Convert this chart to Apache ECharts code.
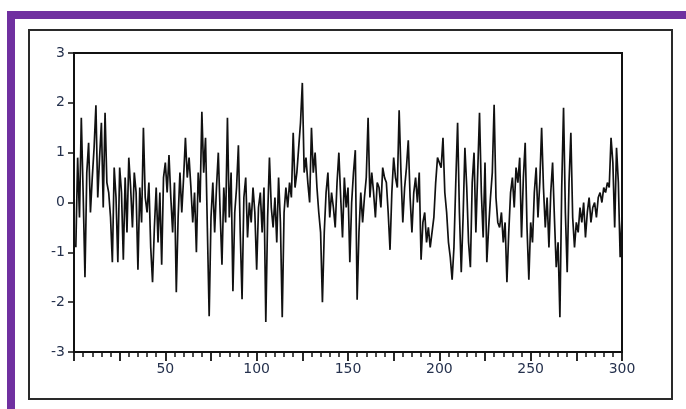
<!DOCTYPE html>
<html>
<head>
<meta charset="utf-8">
<script src="https://cdn.jsdelivr.net/npm/echarts@6/dist/echarts.min.js"></script>
<style>
  html, body { margin: 0; padding: 0; background: #fff; }
  #chart { width: 686px; height: 409px; }
</style>
</head>
<body>
<div id="chart"></div>
<script>
// Simulated residual series, observations 1..300
const obs = Array.from({ length: 300 }, (_, i) => i + 1);
const values = [
  -0.9, 0.9, -0.3, 1.7, 0.2, -1.5, 0.6, 1.2, -0.2, 0.5,
  1.1, 1.95, 0.1, 0.9, 1.6, -0.1, 1.8, 0.4, 0.2, -0.3,
  -1.2, 0.7, 0.1, -1.2, 0.7, 0.2, -1.15, 0.5, -0.6, 0.9,
  0.3, -0.5, 0.6, 0.2, -1.35, 0.3, -0.4, 1.5, 0.1, -0.2,
  0.4, -0.9, -1.6, -0.5, 0.3, -0.8, 0.2, -1.25, 0.5, 0.8,
  0.2, 0.95, 0.1, -0.6, 0.4, -1.8, -0.3, 0.6, -0.2, 0.5,
  1.3, 0.5, 0.9, 0.3, -0.4, 0.2, -1.0, 0.6, 0.0, 1.82,
  0.6, 1.3, -0.5, -2.28, -0.3, 0.4, -0.6, 0.3, 1.0, -0.2,
  -1.25, 0.3, -0.4, 1.7, -0.3, 0.6, -1.78, -0.2, 0.3, 1.15,
  -0.6, -1.94, 0.1, 0.5, -0.7, 0.0, -0.4, 0.3, -0.2, -1.35,
  -0.1, 0.2, -0.6, 0.3, -2.4, -0.3, 0.9, -0.1, -0.5, 0.1,
  -0.8, 0.5, -0.4, -2.3, -0.2, 0.3, -0.1, 0.4, 0.1, 1.4,
  0.3, 0.6, 1.1, 1.6, 2.4, 0.6, 0.9, 0.4, 0.0, 1.5,
  0.6, 1.0, 0.3, -0.2, -0.6, -2.0, -0.6, 0.2, 0.6, -0.3,
  0.2, -0.1, -0.5, 0.4, 1.0, 0.1, -0.7, 0.5, -0.1, 0.3,
  -1.2, 0.0, 0.6, 1.05, -1.95, -0.6, 0.2, -0.4, 0.1, 0.5,
  1.7, 0.1, 0.6, 0.2, -0.3, 0.4, 0.3, -0.1, 0.7, 0.5,
  0.4, -0.2, -0.95, 0.2, 0.9, 0.5, 0.3, 1.85, 0.6, -0.4,
  0.3, 0.7, 1.25, 0.1, -0.6, 0.2, 0.5, 0.0, 0.6, -1.15,
  -0.4, -0.2, -0.8, -0.5, -0.9, -0.6, -0.3, 0.4, 0.9, 0.8,
  0.7, 1.3, 0.2, -0.2, -0.8, -1.1, -1.55, -0.9, 0.4, 1.6,
  -0.2, -1.4, -0.3, 1.1, 0.3, -0.8, -1.3, 0.4, 1.0, -0.6,
  0.6, 1.8, 0.2, -0.7, 0.8, -1.2, -0.5, 0.1, 0.6, 1.96,
  0.1, -0.4, -0.5, -0.2, -0.8, -0.4, -1.6, -0.6, 0.2, 0.5,
  -0.1, 0.7, 0.4, 0.9, -0.7, 0.5, 1.2, -0.5, -1.55, -0.4,
  -0.8, 0.2, 0.7, -0.3, 0.4, 1.5, 0.3, -0.5, 0.1, -0.9,
  0.2, 0.8, -0.3, -1.3, -0.8, -2.3, 0.3, 1.9, -0.2, -1.4,
  0.4, 1.4, -0.3, -0.9, -0.4, -0.6, -0.1, -0.4, 0.0, -0.7,
  -0.2, 0.1, -0.4, -0.1, 0.0, -0.3, 0.1, 0.2, 0.0, 0.3,
  0.2, 0.4, 0.3, 1.3, 0.8, -0.5, 1.1, 0.4, -1.1, -0.3
];
const yTicks = [-3, -2, -1, 0, 1, 2, 3];
const xLabelStep = 50;

const purple = '#7030a0';
const labelColor = '#26324e';
const labelFont = { fontFamily: 'DejaVu Sans', fontSize: 14, color: labelColor };

const chart = echarts.init(document.getElementById('chart'), null, { renderer: 'canvas' });
chart.setOption({
  backgroundColor: '#ffffff',
  animation: false,
  graphic: [
    // purple page frame (top and left bars)
    { type: 'rect', z: -10, shape: { x: 7, y: 11, width: 679, height: 8 }, style: { fill: purple } },
    { type: 'rect', z: -10, shape: { x: 7, y: 11, width: 8, height: 398 }, style: { fill: purple } },
    // figure box
    { type: 'rect', z: -10, shape: { x: 29, y: 30, width: 643, height: 369 },
      style: { fill: 'none', stroke: '#2a2a2a', lineWidth: 2 } }
  ],
  grid: {
    left: 74, right: 64, top: 53, bottom: 57,
    show: true, borderColor: '#111', borderWidth: 2, backgroundColor: 'transparent'
  },
  xAxis: {
    type: 'value',
    min: 0, max: 300, interval: 25,
    axisLine: { onZero: false, lineStyle: { color: '#111', width: 2 } },
    axisTick: { show: true, inside: false, length: 9, lineStyle: { color: '#111', width: 1.8 } },
    minorTick: { show: true, splitNumber: 5, length: 5, lineStyle: { color: '#111', width: 1.5 } },
    splitLine: { show: false },
    minorSplitLine: { show: false },
    axisLabel: Object.assign({
      margin: 10,
      formatter: v => (v > 0 && v % xLabelStep === 0) ? String(v) : ''
    }, labelFont)
  },
  yAxis: {
    type: 'value',
    min: yTicks[0], max: yTicks[yTicks.length - 1], interval: 1,
    axisLine: { show: true, lineStyle: { color: '#111', width: 2 } },
    axisTick: { show: true, inside: false, length: 6, lineStyle: { color: '#111', width: 1.5 } },
    splitLine: { show: false },
    axisLabel: Object.assign({ margin: 9 }, labelFont)
  },
  series: [{
    type: 'line',
    data: values.map((v, i) => [obs[i], v]),
    symbol: 'none',
    lineStyle: { color: '#111', width: 1.7 },
    clip: true
  }]
});
</script>
</body>
</html>
